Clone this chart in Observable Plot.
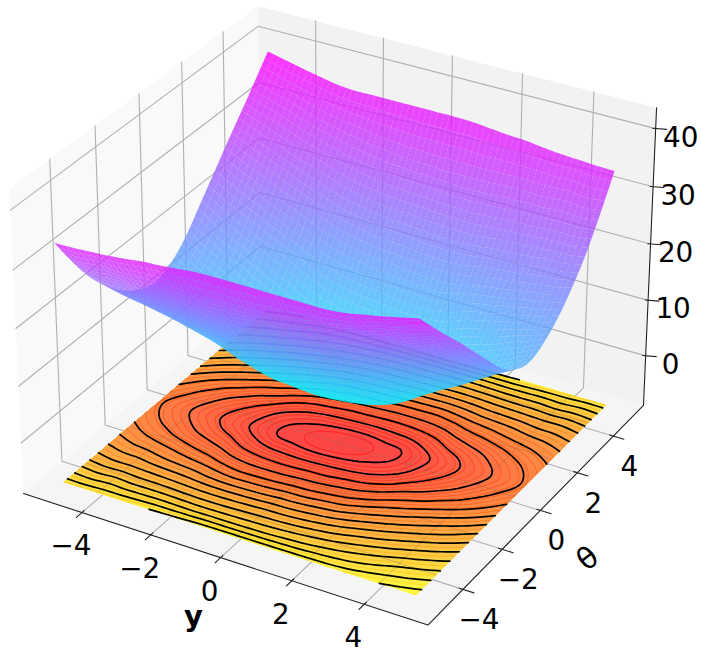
<!DOCTYPE html>
<html><head><meta charset="utf-8">
<style>html,body{margin:0;padding:0;background:#fff}</style>
<script src="https://cdn.jsdelivr.net/npm/d3@7"></script>
<script src="https://cdn.jsdelivr.net/npm/@observablehq/plot@0.6"></script>
</head><body><div id="chart"></div>
<script>
// Surface height: one row per y (-5 to 5), one column per theta (-5 to 5), step 0.5
const yGrid = [-5,-4.5,-4,-3.5,-3,-2.5,-2,-1.5,-1,-0.5,0,0.5,1,1.5,2,2.5,3,3.5,4,4.5,5];
const thetaGrid = yGrid.slice();
const surface = [
[33.6,29.9,26.4,23.2,20.6,18.3,16.4,15,14,13.7,14.5,15.9,18,20.6,23.2,25.8,28.4,30.9,33.4,36,38.6],
[33.7,29.6,26,22.6,19.9,17.4,15.3,13.7,12.5,11.9,12.8,14.1,16,18.6,21.4,24.1,26.9,29.7,32.4,35,37.9],
[33.9,30,26.2,22.6,19.7,16.9,14.5,12.6,11,10.2,10.9,12.4,14.3,16.9,19.8,22.6,25.6,28.5,31.5,34.2,37.2],
[34.1,29.8,25.9,22.4,19.1,16.3,13.8,11.3,9.6,8.5,9,10.4,12.8,15.4,18.3,21.2,24.3,27.3,30.3,33.2,36.6],
[34.4,29.9,25.9,22.2,18.8,15.7,13,10.4,8.2,7,7.3,8.7,10.9,13.9,16.8,19.8,23,26.2,29.3,32.3,36],
[34.8,30,25.8,22,18.5,15.2,12.3,9.4,7.1,5.3,5.5,6.8,9.3,12.4,15.5,18.5,21.8,25.2,28.4,31.7,35.7],
[35,29.9,25.6,21.7,17.9,14.5,11.1,8.1,5.6,3.7,3.6,4.7,7.1,10.5,13.9,17.2,20.6,24.1,27.6,31.2,35.7],
[35.3,29.8,25.5,21.6,17.6,13.9,10.5,7.4,4.5,2.4,2.2,3.3,5.6,9,12.6,16,19.6,23.3,27,30.7,35.7],
[35.6,29.9,25.6,21.7,17.7,14,10.4,7.1,4.2,2.1,1.7,2.5,4.8,8.3,11.8,15.4,19,22.7,26.5,30.4,35.7],
[35.7,29.9,25.8,21.9,17.9,14.2,10.5,7.1,4,1.7,1.2,2,4.4,7.6,11.2,14.8,18.5,22.3,26.2,30.1,35.7],
[35.7,30,26,22.2,18.3,14.6,10.9,7.4,4.1,1.7,1,1.7,4.1,7.4,10.9,14.6,18.3,22.2,26,30,35.7],
[35.7,30.1,26.2,22.3,18.5,14.8,11.2,7.6,4.4,2,1.2,1.7,4,7.1,10.5,14.2,17.9,21.9,25.8,29.9,35.7],
[35.7,30.4,26.5,22.7,19,15.4,11.8,8.3,4.8,2.5,1.7,2.1,4.2,7.1,10.4,14,17.7,21.7,25.6,29.9,35.6],
[35.7,30.7,27,23.3,19.6,16,12.6,9,5.6,3.3,2.2,2.4,4.5,7.4,10.5,13.9,17.6,21.6,25.5,29.8,35.3],
[35.7,31.2,27.6,24.1,20.6,17.2,13.9,10.5,7.1,4.7,3.6,3.7,5.6,8.1,11.1,14.5,17.9,21.7,25.6,29.9,35],
[35.7,31.7,28.4,25.2,21.8,18.5,15.5,12.4,9.3,6.8,5.5,5.3,7.1,9.4,12.3,15.2,18.5,22,25.8,30,34.8],
[36,32.3,29.3,26.2,23,19.8,16.8,13.9,10.9,8.7,7.3,7,8.2,10.4,13,15.7,18.8,22.2,25.9,29.9,34.4],
[36.6,33.2,30.3,27.3,24.3,21.2,18.3,15.4,12.8,10.4,9,8.5,9.6,11.3,13.8,16.3,19.1,22.4,25.9,29.8,34.1],
[37.2,34.2,31.5,28.5,25.6,22.6,19.8,16.9,14.3,12.4,10.9,10.2,11,12.6,14.5,16.9,19.7,22.6,26.2,30,33.9],
[37.9,35,32.4,29.7,26.9,24.1,21.4,18.6,16,14.1,12.8,11.9,12.5,13.7,15.3,17.4,19.9,22.6,26,29.6,33.7],
[38.6,36,33.4,30.9,28.4,25.8,23.2,20.6,18,15.9,14.5,13.7,14,15,16.4,18.3,20.6,23.2,26.4,29.9,33.6]
];
const yTicks = [-4,-2,0,2,4];
const thetaTicks = [-4,-2,0,2,4];
const zTicks = [0,10,20,30,40];
const blackLevels = [2.4,4.8,7.6,10.4,13.2,15.6,18,20.4,22.8,25.2,27.6,30,32.4,34.8,37.2];
const bandStep = 0.8;
const floorZ = -8;

// view box of the 3D axes and the default camera
const xLim = [-5.729,5.729], tLim = [-5.729,5.729], zLim = [-9.05,43.55];
const box = [1.14286,1.14286,0.85714];
const U = [0.86603,0.5,0], V = [-0.25,0.43301,0.86603], N = [0.43301,-0.75,0.5], DIST = 10;
function world(a,b,c){return [
  (a-xLim[0])/(xLim[1]-xLim[0])*box[0]-box[0]/2,
  (b-tLim[0])/(tLim[1]-tLim[0])*box[1]-box[1]/2,
  (c-zLim[0])/(zLim[1]-zLim[0])*box[2]-box[2]/2];}
const dot=(p,q)=>p[0]*q[0]+p[1]*q[1]+p[2]*q[2];
function P(a,b,c){const w=world(a,b,c),s=DIST-dot(w,N);return {x:dot(w,U)/s,y:dot(w,V)/s};}
function depth(a,b,c){return dot(world(a,b,c),N);}

const PX=4055, OX=338.5, OY=300.8;
const zmin=d3.min(surface.flat()), zmax=d3.max(surface.flat());
const cool=z=>{const t=(z-zmin)/(zmax-zmin);return `rgb(${Math.round(255*t)},${Math.round(255*(1-t))},255)`;};
const FA=0.72, FB=245;
const autumn=z=>{const t=Math.max(0,Math.min(1,(z-zmin)/(zmax-zmin)));
  return `rgb(${Math.round(FA*255+(1-FA)*FB)},${Math.round(FA*255*t+(1-FA)*FB)},${Math.round((1-FA)*FB)})`;};
const autumnLine=z=>{const t=Math.max(0,Math.min(1,(z-zmin)/(zmax-zmin)));return `rgb(255,${Math.round(255*t*0.85)},0)`;};

// Drawing mesh: the table above is the data; between its nodes the mesh is a smooth resample so facets are not visible
const N0=yGrid.length, H=yGrid[1]-yGrid[0];
const cr=(p0,p1,p2,p3,t)=>p1+0.5*t*(p2-p0+t*(2*p0-5*p1+4*p2-p3+t*(3*(p1-p2)+p3-p0)));
const at=(i,j)=>{const a=Math.max(0,Math.min(N0-1,i)),b=Math.max(0,Math.min(N0-1,j));
  return surface[a][b]+(i-a)*(a===0?surface[1][b]-surface[0][b]:surface[N0-1][b]-surface[N0-2][b])*(i===a?0:1)+(j-b)*(b===0?surface[a][1]-surface[a][0]:surface[a][N0-1]-surface[a][N0-2])*(j===b?0:1);};
function sample(u,v){ // u,v in table index units
  const i=Math.min(N0-2,Math.floor(u)),j=Math.min(N0-2,Math.floor(v)),s=u-i,t=v-j,c=[];
  for(let k=-1;k<3;k++)c.push(cr(at(i+k,j-1),at(i+k,j),at(i+k,j+1),at(i+k,j+2),t));
  return cr(c[0],c[1],c[2],c[3],s);
}

let nid=0;
function poly(pts,extra={}){const id=nid++;return pts.map(p=>({...p,id,...extra}));}

// panes
const [x0,x1]=xLim,[t0,t1]=tLim,[z0,z1]=zLim;
const panes=[
 poly([P(x0,t0,z0),P(x0,t1,z0),P(x0,t1,z1),P(x0,t0,z1)],{c:"#f9f9f9"}),
 poly([P(x0,t1,z0),P(x1,t1,z0),P(x1,t1,z1),P(x0,t1,z1)],{c:"#f2f2f2"}),
 poly([P(x0,t0,z0),P(x1,t0,z0),P(x1,t1,z0),P(x0,t1,z0)],{c:"#f5f5f5"})
].flat();

// grid lines
const grid=[];
for(const t of yTicks){grid.push(poly([P(t,t0,z0),P(t,t1,z0),P(t,t1,z1)]));}
for(const t of thetaTicks){grid.push(poly([P(x1,t,z0),P(x0,t,z0),P(x0,t,z1)]));}
for(const t of zTicks){grid.push(poly([P(x0,t0,t),P(x0,t1,t),P(x1,t1,t)]));}

// axis lines and tick marks
const axisLines=poly([P(x0,t0,z0),P(x1,t0,z0),P(x1,t1,z0),P(x1,t1,z1)]);
const ticks=[];
for(const t of yTicks)ticks.push(poly([P(t,t0+0.1,z0),P(t,t0-0.25,z0)]));
for(const t of thetaTicks)ticks.push(poly([P(x1-0.1,t,z0),P(x1+0.3,t,z0)]));
for(const t of zTicks)ticks.push(poly([P(x1-0.07,t1-0.02,t),P(x1+0.25,t1+0.1,t)]));

// floor contours (d3.contours on the negated mesh gives the nested regions z<=level)
const FR=4, n=(N0-1)*FR+1, flat=[];
for(let j=0;j<n;j++)for(let i=0;i<n;i++)flat.push(-sample(i/FR,j/FR));
const gx=c=>yGrid[0]+(Math.max(.5,Math.min(n-.5,c))-.5)*H/FR;
const cont=d3.contours().size([n,n]).smooth(true);
const bandLevels=[];for(let k=0;k<49;k++)bandLevels.push(+(1.6+k*bandStep).toFixed(1));
const floorFill=[];
for(const l of bandLevels.slice().reverse()){
  const g=cont.contour(flat,-l);
  for(const polyg of g.coordinates){
    floorFill.push(poly(polyg[0].map(p=>P(gx(p[0]),gx(p[1]),floorZ)),{c:autumn(l-bandStep/2)}));
  }
}
function segs(level,extra={}){
  const g=cont.contour(flat,-level),out=[];
  for(const pg of g.coordinates)for(const ring of pg){
    let cur=[];
    const inside=p=>p[0]>=.5&&p[0]<=n-.5&&p[1]>=.5&&p[1]<=n-.5;
    for(const p of ring){
      if(inside(p))cur.push(P(gx(p[0]),gx(p[1]),floorZ));
      else{if(cur.length>1)out.push(poly(cur,extra));cur=[];}
    }
    if(cur.length>1)out.push(poly(cur,extra));
  }
  return out.flat();
}
const colorLevels=bandLevels.filter((l,k)=>!blackLevels.includes(l)&&(l<16||k%3===1));
const colorLines=colorLevels.flatMap(l=>segs(l,{c:autumnLine(l)}));
const blackLines=blackLevels.flatMap(l=>segs(l));
const floorGrid=[];
for(const t of yTicks)floorGrid.push(poly([P(t,-5,floorZ),P(t,5,floorZ)]));
for(const t of thetaTicks)floorGrid.push(poly([P(-5,t,floorZ),P(5,t,floorZ)]));

// surface quads, far ones first
const SR=3, M=(N0-1)*SR+1, fine=[];
for(let i=0;i<M;i++){const r=[];for(let j=0;j<M;j++)r.push(sample(i/SR,j/SR));fine.push(r);}
const gv=i=>yGrid[0]+i*H/SR;
const quads=[];
for(let i=0;i<M-1;i++)for(let j=0;j<M-1;j++){
  const a=gv(i),b=gv(i+1),c=gv(j),d=gv(j+1);
  const zs=[fine[i][j],fine[i+1][j],fine[i+1][j+1],fine[i][j+1]];
  const m=d3.mean(zs);
  quads.push({k:depth((a+b)/2,(c+d)/2,m),pts:[P(a,c,zs[0]),P(b,c,zs[1]),P(b,d,zs[2]),P(a,d,zs[3])],m});
}
quads.sort((p,q)=>p.k-q.k);
const surfacePts=quads.flatMap(q=>poly(q.pts,{c:cool(q.m)}));

// labels
const yLab=yTicks.map(t=>({...P(t,t0,z0),s:String(t).replace("-","\u2212")}));
const tLab=thetaTicks.map(t=>({...P(x1,t,z0),s:String(t).replace("-","\u2212")}));
const zLab=zTicks.map(t=>({...P(x1,t1,t),s:String(t)}));
const font="DejaVu Sans", fs=27.8;
const chart=Plot.plot({
  width:701,height:657,margin:0,
  style:{background:"#fff",overflow:"visible"},
  x:{axis:null,domain:[-OX/PX,(701-OX)/PX],range:[0,701]},
  y:{axis:null,domain:[OY/PX,(OY-657)/PX],range:[0,657]},
  marks:[
    Plot.line(panes,{x:"x",y:"y",z:"id",fill:d=>d.c,stroke:"none"}),
    Plot.line(grid.flat(),{x:"x",y:"y",z:"id",stroke:"#b0b0b0",strokeWidth:1.1}),
    Plot.line(floorFill.flat(),{x:"x",y:"y",z:"id",fill:d=>d.c,stroke:"none"}),
    Plot.line(floorGrid.flat(),{x:"x",y:"y",z:"id",stroke:"#8a6a50",strokeOpacity:0.28,strokeWidth:1.1}),
    Plot.line(colorLines,{x:"x",y:"y",z:"id",stroke:d=>d.c,strokeWidth:1.1,strokeOpacity:0.45}),
    Plot.line(blackLines,{x:"x",y:"y",z:"id",stroke:"#000",strokeWidth:1.7}),
    Plot.line(axisLines,{x:"x",y:"y",z:"id",stroke:"#222",strokeWidth:1.1}),
    Plot.line(ticks.flat(),{x:"x",y:"y",z:"id",stroke:"#222",strokeWidth:1.1}),
    Plot.line(surfacePts,{x:"x",y:"y",z:"id",fill:d=>d.c,fillOpacity:0.8,stroke:"none"}),
    Plot.text(yLab,{x:"x",y:"y",text:"s",dx:-11,dy:34,fontSize:fs,fontFamily:font,fill:"#000"}),
    Plot.text(tLab,{x:"x",y:"y",text:"s",dx:16,dy:31,fontSize:fs,fontFamily:font,fill:"#000"}),
    Plot.text(zLab,{x:"x",y:"y",text:"s",dx:25,dy:9,fontSize:fs,fontFamily:font,fill:"#000"}),
    Plot.text([{...P(0.5,t0-2.05,z0),s:"y"}],{x:"x",y:"y",text:"s",dy:12,fontSize:29,fontWeight:"bold",fontFamily:font,fill:"#000"}),
    Plot.text([{...P(x1+1.7,-1.3,z0),s:"\u03b8"}],{x:"x",y:"y",text:"s",dx:10,dy:4,rotate:-37,fontSize:30,fontFamily:font,fill:"#000"})
  ]
});
document.getElementById("chart").append(chart);
</script></body></html>
